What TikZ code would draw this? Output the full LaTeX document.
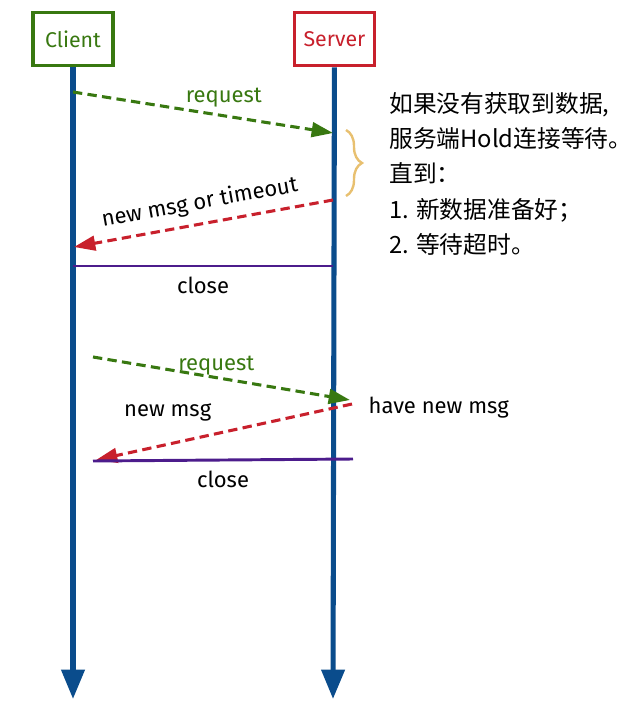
\documentclass[tikz,border=0pt]{standalone}
\usepackage{fontspec}
\setmainfont{Fira Sans}
\newfontfamily\cjk{Noto Sans CJK SC}
\usepackage{tikz}
\usetikzlibrary{arrows.meta,decorations.pathreplacing}
\definecolor{cgreen}{RGB}{56,120,16}
\definecolor{cred}{RGB}{200,32,44}
\definecolor{lblue}{RGB}{10,76,140}
\definecolor{cpurple}{RGB}{76,28,140}
\definecolor{bgold}{RGB}{232,192,112}

\begin{document}
\begin{tikzpicture}[x=0.75pt, y=-0.75pt,
    box/.style={draw, line width=2.4pt, fill=white, minimum width=60pt, minimum height=40pt,
                font=\fontsize{16}{19}\selectfont},
    life/.style={line width=3.8pt, lblue, -{Triangle[width=17pt,length=22pt]}},
    req/.style={dashed, dash pattern=on 7pt off 4pt, line width=2.3pt, cgreen,
                -{Triangle[width=11pt,length=16pt]}},
    resp/.style={dashed, dash pattern=on 7pt off 4pt, line width=2.3pt, cred,
                -{Triangle[width=11pt,length=16pt]}},
    cls/.style={line width=2.2pt, cpurple},
    lbl/.style={font=\fontsize{16.5}{19}\selectfont, text=black}
  ]
    \useasboundingbox (0,0) rectangle (636,707);
    % Lifelines
    \node[box, draw=cgreen, text=cgreen] (client) at (73,39) {Client};
    \node[box, draw=cred, text=cred] (server) at (334.5,39) {Server};
    \coordinate (cEnd) at (73,699);
    \coordinate (sEnd) at (333,699);
    \draw[life] (client) -- (cEnd);
    \draw[life] (server) -- (sEnd);
    % First round
    \coordinate (req1a) at (73,92);
    \coordinate (req1b) at (333,133);
    \coordinate (resp1a) at (333,200);
    \coordinate (resp1b) at (74,247);
    \coordinate (cls1a) at (73,266);
    \coordinate (cls1b) at (333,266);
    \draw[req] (req1a) -- node[lbl, pos=0.58, above=2pt, text=cgreen]{request} (req1b);
    \draw[resp] (resp1a) -- node[lbl, midway, sloped, above=3pt]{new msg or timeout} (resp1b);
    \draw[cls] (cls1a) -- node[lbl, midway, below=4pt]{close} (cls1b);
    % Hold
    \coordinate (brTop) at (346,130);
    \coordinate (brBot) at (346,196);
    \draw[bgold, line width=1.8pt, decorate, decoration={brace, amplitude=12pt}] (brTop) -- (brBot);
    \node[anchor=north west, inner sep=0pt, align=left, font=\cjk\fontsize{17.8}{26.5}\selectfont] (note) at (389,92)
      {如果没有获取到数据,\\服务端Hold连接等待。\\直到：\\1. 新数据准备好；\\2. 等待超时。};
    % Second round
    \coordinate (req2a) at (93,357);
    \coordinate (req2b) at (350,400);
    \coordinate (resp2a) at (352,404);
    \coordinate (resp2b) at (96,460);
    \coordinate (cls2a) at (93,461);
    \coordinate (cls2b) at (353,459);
    \draw[req] (req2a) -- node[lbl, pos=0.48, above=-3pt, text=cgreen]{request} (req2b);
    \draw[resp] (resp2a) -- node[lbl, pos=0.72, above=13pt]{new msg} (resp2b);
    \draw[cls] (cls2a) -- node[lbl, midway, below=4pt]{close} (cls2b);
    \node[lbl, anchor=west] (have) at (364,408) {have new msg};
  \end{tikzpicture}
\end{document}
